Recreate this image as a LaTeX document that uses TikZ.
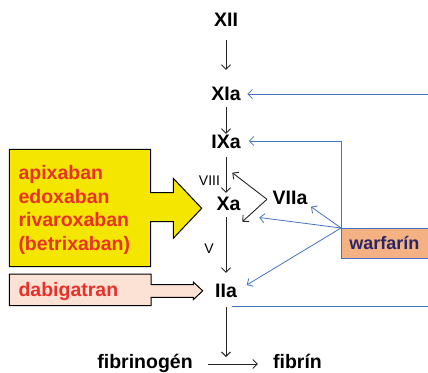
\documentclass[tikz,border=0pt]{standalone}
\usepackage{fontspec}
\setmainfont{Liberation Sans}
\usetikzlibrary{arrows.meta,calc}
\definecolor{bluel}{RGB}{68,114,196}
\definecolor{drugred}{RGB}{232,49,40}
\definecolor{yel}{RGB}{245,230,0}
\definecolor{peach}{RGB}{251,226,213}
\definecolor{warf}{RGB}{244,177,131}
\definecolor{navy}{RGB}{40,38,100}
\begin{document}
\begin{tikzpicture}[x=1pt,y=-1pt,
  lab/.style={font=\fontsize{19.5}{23}\selectfont\bfseries, inner sep=0pt, text height=14pt, text depth=0pt},
  small/.style={font=\fontsize{14}{16}\selectfont, inner sep=0pt, text height=10pt, text depth=0pt},
  karr/.style={draw=black!85, line width=0.9pt, -{Straight Barb[length=4.5pt,width=9pt]}},
  barr/.style={draw=bluel, line width=0.8pt, -{Straight Barb[length=4.5pt,width=9pt]}},
  bline/.style={draw=bluel, line width=0.8pt},
  drugtxt/.style={font=\fontsize{19.5}{23.5}\selectfont\bfseries, text=drugred, inner sep=0pt, align=left},
  wbox/.style={draw=bluel, line width=0.8pt, fill=warf, font=\fontsize{18}{20}\selectfont\bfseries, text=navy, text height=13pt, text depth=0pt}
]
\useasboundingbox (0,0) rectangle (428,372);
\clip (0,0) rectangle (428,372);

% drug shapes
\path[draw=black, line width=1pt, fill=yel] (9.3,149.3) -- (150.7,149.3) -- (150.7,192.7) -- (173.3,192.7) -- (173.3,178.3) -- (201.7,208.3) -- (173.3,238.3) -- (173.3,221.7) -- (150.7,221.7) -- (150.7,266.7) -- (9.3,266.7) -- cycle;
\node[drugtxt, anchor=north west] (drugs) at (18.3,165.5) {apixaban\\edoxaban\\rivaroxaban\\(betrixaban)};

\path[draw=black, line width=1pt, fill=peach] (9.3,274) -- (151,274) -- (151,284.7) -- (193.3,284.7) -- (193.3,282) -- (202.7,290.8) -- (193.3,299.7) -- (193.3,297.3) -- (151,297.3) -- (151,305.5) -- (9.3,305.5) -- cycle;
\node[lab, text=drugred, anchor=west] (dabi) at (18.3,289.7) {dabigatran};

% factors
\node[lab] (XII) at (226,20) {XII};
\node[lab] (XIa) at (226,93.5) {XIa};
\node[lab] (IXa) at (226,141) {IXa};
\node[lab] (Xa) at (228.5,203.5) {Xa};
\node[lab] (VIIa) at (290,197) {VIIa};
\node[lab] (IIa) at (226,290.5) {IIa};
\node[lab] (fibg) at (145,361) {fibrinogén};
\node[lab] (fibr) at (297.5,361) {fibrín};
\node[small] (VIII) at (209.5,180) {VIII};
\node[small] (V) at (209,248.5) {V};

\node[wbox, anchor=north west, minimum height=30pt, text width=84pt, inner xsep=8pt, inner ysep=0pt, align=left] (war) at (341,228) {warfarín};

% cascade arrows
\draw[karr, shorten <=13pt, shorten >=16.5pt] (XII.south) -- (XIa.north);
\draw[karr, shorten <=6.5pt] (XIa.south) -- (IXa.north);
\draw[karr, shorten <=9pt, shorten >=3.5pt] (IXa.south) -- (IXa.south |- Xa.north);
\draw[karr, shorten <=6.5pt, shorten >=10.5pt] (IIa |- Xa.south) -- (IIa.north);
\coordinate (conv) at (226,357);
\draw[karr, shorten <=9.5pt] (IIa.south) -- (conv);
\draw[karr, shorten <=15pt, shorten >=15pt] ([yshift=-3pt]fibg.east) -- ([yshift=-3pt]fibr.west);

% VIIa
\coordinate (vx) at ([shift={(-5.5,2.3)}]VIIa.west);
\draw[karr] (vx) -- ([shift={(3.8,-30.8)}]Xa.center);
\draw[karr] (vx) -- ([shift={(13.8,18.2)}]Xa.center);

% blue
\coordinate (rXI) at (428,94);
\draw[barr, shorten >=6.5pt] (rXI) -- (rXI -| XIa.east);
\draw[barr, shorten >=8pt] (war.north west) |- (IXa.east);
\draw[barr] (war.north west) -- ([shift={(21,9.7)}]VIIa.center);
\draw[barr] (war.north west) -- ([shift={(30.8,14)}]Xa.center);
\draw[barr] (war.north west) -- ([shift={(20.7,-5.5)}]IIa.center);
\coordinate (rII) at (428,306);
\draw[bline] (rII) -- ($(rII -| IIa)+(6,0)$);
\end{tikzpicture}
\end{document}
